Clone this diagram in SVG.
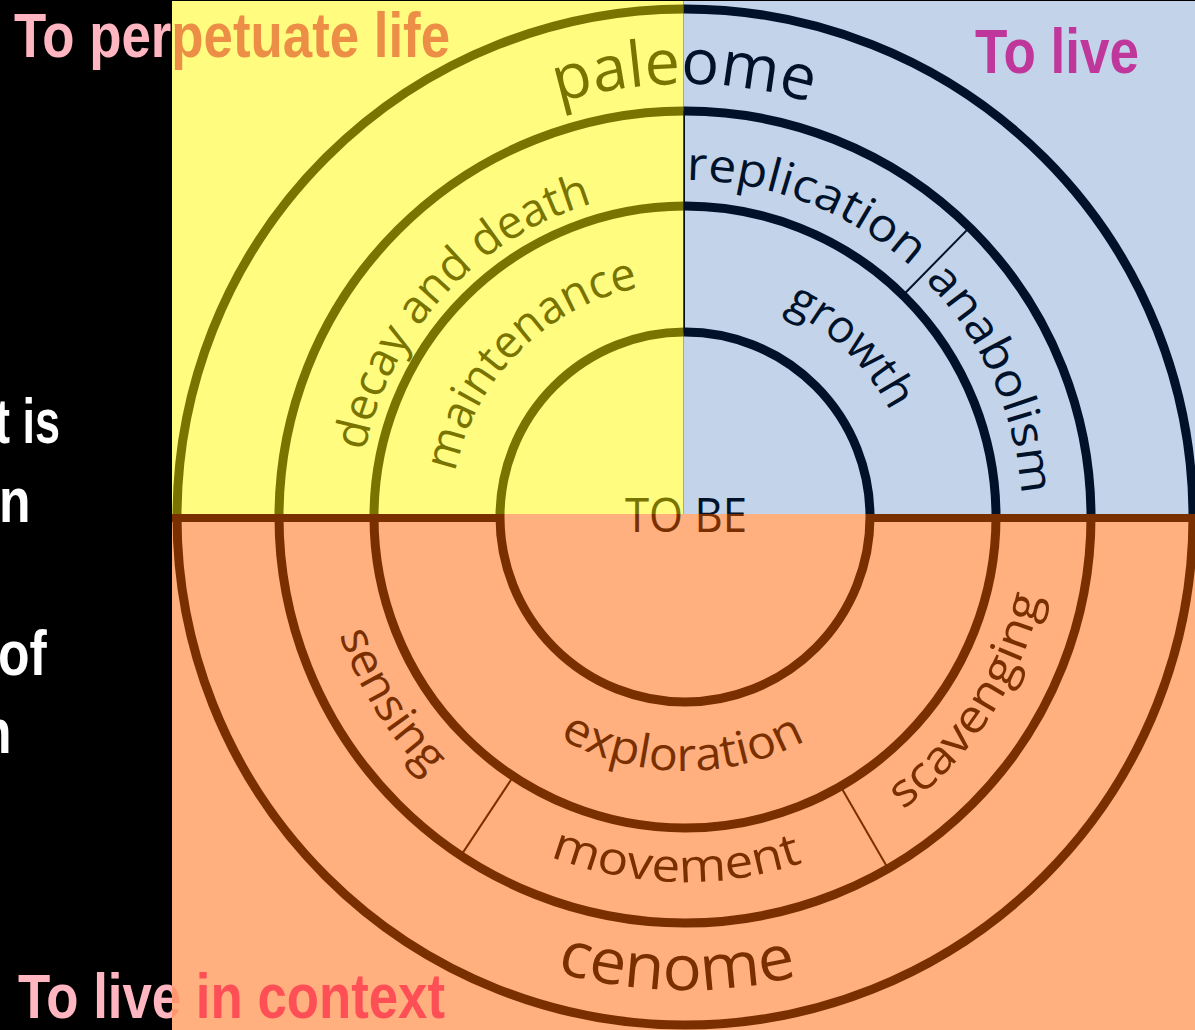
<svg xmlns="http://www.w3.org/2000/svg" width="1195" height="1030" viewBox="0 0 1195 1030">
<style>
 .ring{fill:none;stroke:currentColor;stroke-width:9}
 .bar{fill:none;stroke:currentColor;stroke-width:8}
 .div{fill:none;stroke:currentColor;stroke-width:2}
 .lbl{fill:currentColor;font-family:"Open Sans","Noto Sans",sans-serif;font-size:46px;text-anchor:middle}
 .big{font-size:63px}
 .title{font-family:"Liberation Sans",Arial,sans-serif;font-weight:bold;font-size:63px}
 .side{fill:#FFFFFF}
</style>
<defs>
 <clipPath id="cY"><rect x="172" y="0" width="511.5" height="514"/></clipPath>
 <clipPath id="cB"><rect x="683.5" y="0" width="511.5" height="514"/></clipPath>
 <clipPath id="cO"><rect x="172" y="514" width="1023" height="516"/></clipPath>
 <clipPath id="cK"><rect x="0" y="0" width="172" height="1030"/></clipPath>
 <clipPath id="cD"><rect x="172" y="0" width="1023" height="1030"/></clipPath>
 <path id="pPaleome" d="M309.6,301.1 A433,433 0 0 1 1059.6,299.9"/>
 <path id="pCenome" d="M271.3,746.3 A473,473 0 0 0 1090.5,760.6"/>
 <path id="pReplication" d="M473.8,254.4 A337,337 0 0 1 1018,465.4"/>
 <path id="pAnabolism" d="M719.1,181.7 A337,337 0 0 1 958.3,714.1"/>
 <path id="pGrowth" d="M622.1,294.7 A231,231 0 0 1 908.9,573.7"/>
 <path id="pMaintenance" d="M459.2,578.4 A234,234 0 0 1 744.8,290.8"/>
 <path id="pDecay" d="M373,614.8 A327,327 0 0 1 756.3,197.9"/>
 <path id="pExploration" d="M463.7,641.7 A254,254 0 0 0 903.6,646.3"/>
 <path id="pMovement" d="M364.5,691.7 A365,365 0 0 0 996.5,707.2"/>
 <path id="pSensing" d="M362.7,345.6 A365,365 0 0 0 697.7,881.8"/>
 <path id="pScavenging" d="M665.9,881.5 A365,365 0 0 0 1010.2,351.3"/>
 <g id="art">
  <g id="rings">
   <circle class="ring" cx="685" cy="517" r="185"/>
   <circle class="ring" cx="685" cy="517" r="311"/>
   <circle class="ring" cx="685" cy="517" r="406"/>
   <circle class="ring" cx="685" cy="517" r="508"/>
  </g>
  <g id="connectors">
   <line class="bar" x1="172" y1="518" x2="503" y2="518"/>
   <line class="bar" x1="867" y1="518" x2="1195" y2="518"/>
   <line class="div" x1="684" y1="111" x2="684" y2="333"/>
   <line class="div" x1="903" y1="295.2" x2="969.6" y2="227.4"/>
   <line class="div" x1="513.4" y1="776.3" x2="460.9" y2="855.6"/>
   <line class="div" x1="840.5" y1="786.3" x2="888" y2="868.6"/>
  </g>
  <g id="labels">
   <text class="lbl big"><textPath href="#pPaleome" startOffset="50%" textLength="256" lengthAdjust="spacingAndGlyphs">paleome</textPath></text>
   <text class="lbl big"><textPath href="#pCenome" startOffset="50%" textLength="244" lengthAdjust="spacingAndGlyphs">cenome</textPath></text>
   <text class="lbl"><textPath href="#pReplication" startOffset="50%" textLength="246" lengthAdjust="spacingAndGlyphs">replication</textPath></text>
   <text class="lbl"><textPath href="#pAnabolism" startOffset="50%" textLength="240" lengthAdjust="spacingAndGlyphs">anabolism</textPath></text>
   <text class="lbl"><textPath href="#pGrowth" startOffset="50%" textLength="150" lengthAdjust="spacingAndGlyphs">growth</textPath></text>
   <text class="lbl"><textPath href="#pMaintenance" startOffset="50%" textLength="276" lengthAdjust="spacingAndGlyphs">maintenance</textPath></text>
   <text class="lbl"><textPath href="#pDecay" startOffset="50%" textLength="354" lengthAdjust="spacingAndGlyphs">decay and death</textPath></text>
   <text class="lbl"><textPath href="#pExploration" startOffset="50%" textLength="257" lengthAdjust="spacingAndGlyphs">exploration</textPath></text>
   <text class="lbl"><textPath href="#pMovement" startOffset="50%" textLength="258" lengthAdjust="spacingAndGlyphs">movement</textPath></text>
   <text class="lbl"><textPath href="#pSensing" startOffset="50%" textLength="168" lengthAdjust="spacingAndGlyphs">sensing</textPath></text>
   <text class="lbl"><textPath href="#pScavenging" startOffset="50%" textLength="259" lengthAdjust="spacingAndGlyphs">scavenging</textPath></text>
   <text class="lbl" x="686" y="532" style="font-size:48px" textLength="122" lengthAdjust="spacingAndGlyphs">TO BE</text>
  </g>
 </g>
</defs>
<rect x="0" y="0" width="1195" height="1030" fill="#000000"/>
<g id="side-text">
 <text class="title side" x="-5" y="443" textLength="65" lengthAdjust="spacingAndGlyphs">t is</text>
 <g transform="scale(0.82 1)">
  <text class="title side" x="-1.2" y="522">n</text>
  <text class="title side" x="-2.4" y="675">of</text>
  <text class="title side" x="-24.4" y="753">n</text>
 </g>
</g>
<g id="quadrants">
 <rect x="172" y="1" width="511.5" height="513" fill="#FFFC80"/>
 <rect x="683.5" y="1" width="511.5" height="513" fill="#C3D3E9"/>
 <rect x="172" y="514" width="1023" height="516" fill="#FFB07E"/>
</g>
<g id="diagram">
 <use href="#art" clip-path="url(#cY)" color="#797400"/>
 <use href="#art" clip-path="url(#cB)" color="#00112A"/>
 <use href="#art" clip-path="url(#cO)" color="#7A2F00"/>
</g>
<g id="title-perpetuate">
 <text class="title" x="14" y="57" textLength="436" lengthAdjust="spacingAndGlyphs" fill="#FFB6C1" clip-path="url(#cK)">To perpetuate life</text>
 <text class="title" x="14" y="57" textLength="436" lengthAdjust="spacingAndGlyphs" fill="#EC8E45" clip-path="url(#cD)">To perpetuate life</text>
</g>
<g id="title-live">
 <text class="title" x="975" y="73" textLength="164" lengthAdjust="spacingAndGlyphs" fill="#C0379B">To live</text>
</g>
<g id="title-context">
 <text class="title" x="18" y="1018" textLength="427" lengthAdjust="spacingAndGlyphs" fill="#FFB6C1" clip-path="url(#cK)">To live in context</text>
 <text class="title" x="18" y="1018" textLength="427" lengthAdjust="spacingAndGlyphs" clip-path="url(#cD)"><tspan fill="#FF9670">To live</tspan><tspan fill="#FF4F56"> in context</tspan></text>
</g>
</svg>
